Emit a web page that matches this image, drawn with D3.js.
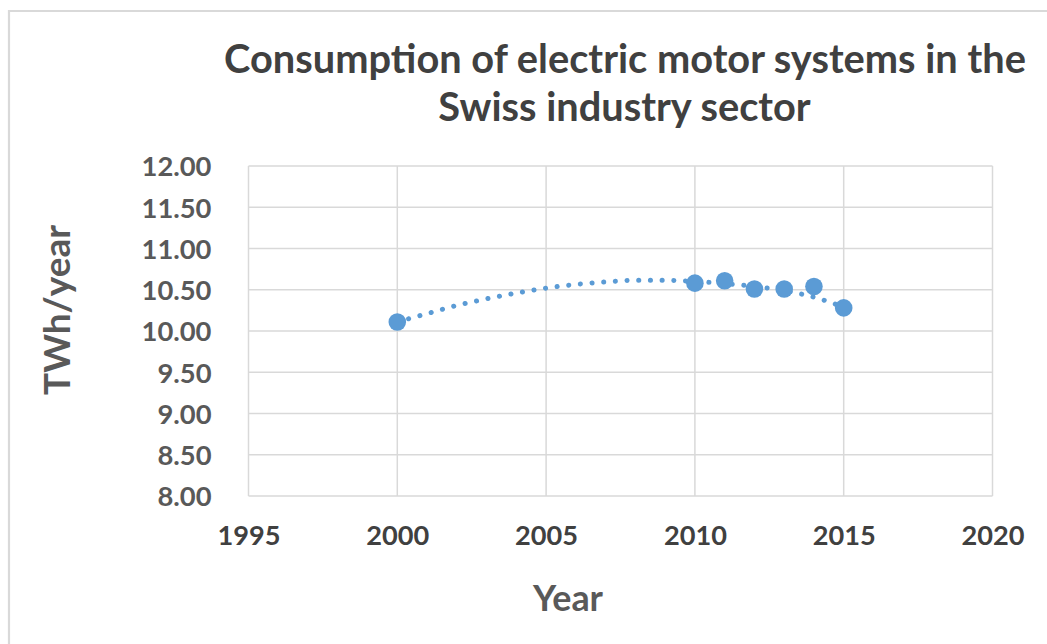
<!DOCTYPE html>
<html>
<head>
<meta charset="utf-8">
<script src="https://cdn.jsdelivr.net/npm/d3@7"></script>
<style>
  html, body { margin: 0; padding: 0; background: #fff; }
  svg { display: block; }
  text { font-family: Lato, "Open Sans", sans-serif; font-weight: 700; }
</style>
</head>
<body>
<svg id="chart" width="1047" height="644"></svg>
<script>
// ---- data ----
const titleLines = ["Consumption of electric motor systems in the", "Swiss industry sector"];
const xAxisTitle = "Year";
const yAxisTitle = "TWh/year";
const years = [2000, 2010, 2011, 2012, 2013, 2014, 2015];
const consumption = [10.11, 10.58, 10.61, 10.51, 10.51, 10.54, 10.28];
// dotted trendline
const trendYears = [2000, 2001, 2002, 2003, 2004, 2005, 2006, 2007, 2008, 2009, 2010, 2011, 2012, 2013, 2014, 2015];
const trendValues = [10.11, 10.21, 10.31, 10.39, 10.46, 10.52, 10.565, 10.595, 10.615, 10.615, 10.60, 10.575, 10.54, 10.49, 10.41, 10.29];
const xTicks = [1995, 2000, 2005, 2010, 2015, 2020];
const yTicks = [8.0, 8.5, 9.0, 9.5, 10.0, 10.5, 11.0, 11.5, 12.0];

// ---- layout ----
const svg = d3.select("#chart");
const W = 1047, H = 644;
const plot = { left: 248.5, right: 992.5, top: 166, bottom: 496 };

// outer chart border (left and top visible)
svg.append("path")
  .attr("d", `M9,${H + 5} V11 H${W + 5}`)
  .attr("fill", "none").attr("stroke", "#d9d9d9").attr("stroke-width", 2.2);

const x = d3.scaleLinear().domain([1995, 2020]).range([plot.left, plot.right]);
const y = d3.scaleLinear().domain([8, 12]).range([plot.bottom, plot.top]);

function fit(sel, targetW) {
  const n = sel.node();
  const fs = parseFloat(sel.attr("font-size"));
  const w = n.getComputedTextLength();
  sel.attr("font-size", fs * targetW / w);
}

// gridlines
const g = svg.append("g");
g.selectAll("line.h").data(yTicks).join("line")
  .attr("class", "h")
  .attr("x1", plot.left).attr("x2", plot.right)
  .attr("y1", d => y(d)).attr("y2", d => y(d))
  .attr("stroke", "#d9d9d9").attr("stroke-width", 1.5);
g.selectAll("line.v").data(xTicks).join("line")
  .attr("class", "v")
  .attr("y1", plot.top).attr("y2", plot.bottom)
  .attr("x1", d => x(d)).attr("x2", d => x(d))
  .attr("stroke", "#d9d9d9").attr("stroke-width", 1.5);

// y axis labels via d3 axis
const yAxis = svg.append("g")
  .attr("transform", `translate(${plot.left - 37},0)`)
  .call(d3.axisLeft(y).tickValues(yTicks).tickFormat(d3.format(".2f")).tickSize(0).tickPadding(0));
yAxis.select(".domain").remove();
yAxis.selectAll("text")
  .attr("font-family", "Lato, 'Open Sans', sans-serif")
  .attr("font-weight", 700)
  .attr("font-size", 24)
  .attr("fill", "#595959")
  .attr("dy", "0.36em");
{
  const t = yAxis.selectAll("text").filter(d => d === 12);
  const w = t.node().getComputedTextLength();
  const fs = 24 * 70 / w;
  yAxis.selectAll("text").attr("font-size", fs);
}

// x axis labels
const xAxis = svg.append("g")
  .attr("transform", `translate(0,${plot.bottom})`)
  .call(d3.axisBottom(x).tickValues(xTicks).tickFormat(d3.format("d")).tickSize(0).tickPadding(0));
xAxis.select(".domain").remove();
xAxis.selectAll("text")
  .attr("font-family", "Lato, 'Open Sans', sans-serif")
  .attr("font-weight", 700)
  .attr("font-size", 24)
  .attr("fill", "#404040")
  .attr("dy", null)
  .attr("y", 49);
{
  const t = xAxis.selectAll("text").filter(d => d === 1995);
  const w = t.node().getComputedTextLength();
  xAxis.selectAll("text").attr("font-size", 24 * 63 / w);
}

// title
const t1 = svg.append("text").attr("x", 625).attr("y", 73).attr("text-anchor", "middle")
  .attr("font-size", 32).attr("fill", "#404040").text(titleLines[0]);
fit(t1, 802);
const t2 = svg.append("text").attr("x", 624.5).attr("y", 121).attr("text-anchor", "middle")
  .attr("font-size", t1.attr("font-size")).attr("fill", "#404040").text(titleLines[1]);

// axis titles
const xt = svg.append("text").attr("x", 568).attr("y", 611).attr("text-anchor", "middle")
  .attr("font-size", 30).attr("fill", "#595959").text(xAxisTitle);
fit(xt, 70);
const yt = svg.append("text").attr("transform", "translate(70,310) rotate(-90)")
  .attr("text-anchor", "middle").attr("font-size", 30).attr("fill", "#595959").text(yAxisTitle);
fit(yt, 170);

// trendline (dotted)
const line = d3.line().x(d => x(d[0])).y(d => y(d[1])).curve(d3.curveMonotoneX);
svg.append("path")
  .datum(trendYears.map((yr, i) => [yr, trendValues[i]]))
  .attr("d", line)
  .attr("fill", "none")
  .attr("stroke", "#5b9bd5")
  .attr("stroke-width", 5)
  .attr("stroke-linecap", "round")
  .attr("stroke-dasharray", "0.1 11.6");

// points
svg.append("g").selectAll("circle").data(years).join("circle")
  .attr("cx", d => x(d))
  .attr("cy", (d, i) => y(consumption[i]))
  .attr("r", 8.8)
  .attr("fill", "#5b9bd5");
</script>
</body>
</html>
